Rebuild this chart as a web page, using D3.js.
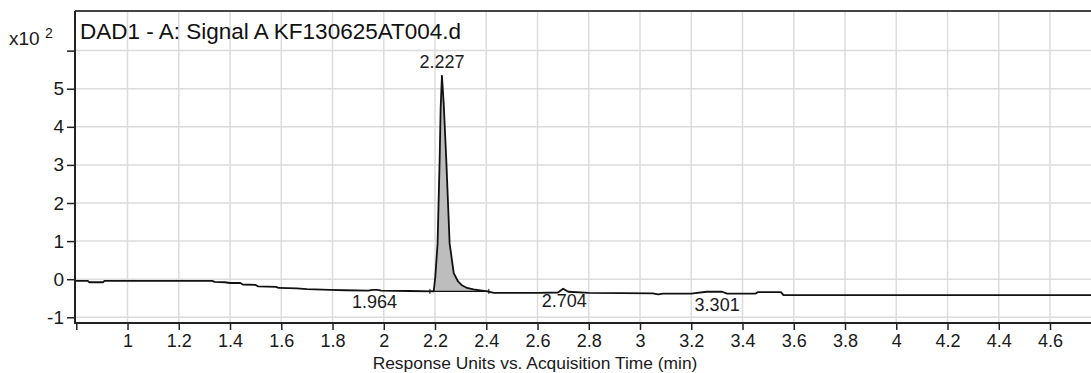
<!DOCTYPE html>
<html><head><meta charset="utf-8">
<script src="https://cdn.jsdelivr.net/npm/d3@7"></script>
<style>
html,body{margin:0;padding:0;background:#fff;}
svg{display:block;font-family:"Liberation Sans",Arial,sans-serif;}
</style></head>
<body>
<svg id="c" width="1091" height="373"></svg>
<script>
// ---- data (response in x10^2 units vs. acquisition time in min) ----
const times = [0.795,0.845,0.850,0.905,0.910,1.33,1.34,1.38,1.40,1.44,1.45,1.50,1.51,1.58,1.59,1.66,1.70,1.79,1.85,1.94,1.955,1.975,1.99,2.10,2.195,
  2.201,2.210,2.218,2.222,2.227,2.234,2.244,2.257,2.273,2.29,2.305,2.325,2.350,2.404,2.43,
  2.60,2.68,2.70,2.72,2.80,3.05,3.07,3.09,3.20,3.26,3.32,3.34,3.45,3.46,3.55,3.56,4.76];
const signal = [-0.045,-0.045,-0.08,-0.08,-0.045,-0.045,-0.07,-0.08,-0.10,-0.10,-0.14,-0.15,-0.19,-0.20,-0.23,-0.24,-0.26,-0.28,-0.29,-0.30,-0.28,-0.28,-0.30,-0.31,-0.32,
  0.06,0.94,3.12,4.5,5.34,4.6,3.12,0.94,0.16,-0.06,-0.16,-0.23,-0.27,-0.32,-0.36,
  -0.36,-0.35,-0.25,-0.33,-0.36,-0.37,-0.40,-0.38,-0.38,-0.33,-0.33,-0.38,-0.38,-0.34,-0.34,-0.42,-0.42];
const peakLabels = ["1.964","2.227","2.704","3.301"];
const peakTimes = [1.964,2.227,2.704,3.301];
const peakLabelValues = [-0.6,5.7,-0.56,-0.68];
const mainPeakWindow = [2.197,2.404];
const mainPeakBaseline = -0.32;
const integrationBaseline = [2.18,2.41];
const xTicks = [0.8,1,1.2,1.4,1.6,1.8,2,2.2,2.4,2.6,2.8,3,3.2,3.4,3.6,3.8,4,4.2,4.4,4.6];
const yTicks = [-1,0,1,2,3,4,5,6];
const yTickLabels = ["-1","0","1","2","3","4","5",""];
const xDomain = [0.795,4.76];
const yDomain = [-1.15,7.04];
const title = "DAD1 - A: Signal A KF130625AT004.d";
const xTitle = "Response Units vs. Acquisition Time (min)";

const svg = d3.select("#c");
const L=75, R=1091, T=11, B=323;
const x = d3.scaleLinear().domain(xDomain).range([L,R]);
const y = d3.scaleLinear().domain(yDomain).range([B,T]);

// grid
const grid = svg.append("g").attr("stroke","#dcdcdc").attr("stroke-width",1.5);
xTicks.filter(t=>t>=1).forEach(t=>grid.append("line").attr("x1",x(t)).attr("x2",x(t)).attr("y1",T).attr("y2",B));
yTicks.forEach(v=>grid.append("line").attr("x1",L).attr("x2",R).attr("y1",y(v)).attr("y2",y(v)));

// top border
svg.append("line").attr("x1",L).attr("x2",R).attr("y1",T).attr("y2",T).attr("stroke","#444").attr("stroke-width",2);

// fill main peak
const pts = times.map((t,i)=>[t,signal[i]]);
const peakPts = pts.filter(p=>p[0]>=mainPeakWindow[0]&&p[0]<=mainPeakWindow[1]);
svg.append("path").datum(peakPts)
  .attr("d",d3.area().x(d=>x(d[0])).y0(y(mainPeakBaseline)).y1(d=>y(d[1])))
  .attr("fill","#bdbdbd");

// integration baseline
svg.append("line").attr("x1",x(integrationBaseline[0])).attr("x2",x(integrationBaseline[1]))
  .attr("y1",y(mainPeakBaseline)).attr("y2",y(mainPeakBaseline)).attr("stroke","#111").attr("stroke-width",1.3);
integrationBaseline.forEach(t=>svg.append("line").attr("x1",x(t)).attr("x2",x(t))
  .attr("y1",y(mainPeakBaseline)-2.5).attr("y2",y(mainPeakBaseline)+2.5).attr("stroke","#111").attr("stroke-width",1));

// signal line
svg.append("path").datum(pts)
  .attr("d",d3.line().x(d=>x(d[0])).y(d=>y(d[1])))
  .attr("fill","none").attr("stroke","#111").attr("stroke-width",1.8).attr("stroke-linejoin","round");

// axes
const xAxis = d3.axisBottom(x).tickValues(xTicks).tickSize(7).tickPadding(4)
  .tickFormat(d=> d===0.8 ? "" : d3.format("~g")(d));
const gx = svg.append("g").attr("transform",`translate(0,${B})`).call(xAxis);
gx.select(".domain").remove();
gx.selectAll(".tick line").attr("stroke","#222").attr("stroke-width",1.5);
gx.selectAll(".tick text").attr("font-size",18).attr("fill","#1a1a1a").attr("font-family","Liberation Sans, Arial, sans-serif");

const yAxis = d3.axisLeft(y).tickValues(yTicks).tickSize(8).tickPadding(3)
  .tickFormat((d,i)=>yTickLabels[i]);
const gy = svg.append("g").attr("transform",`translate(${L},0)`).call(yAxis);
gy.select(".domain").remove();
gy.selectAll(".tick line").attr("stroke","#222").attr("stroke-width",1.5);
gy.selectAll(".tick text").attr("font-size",19).attr("fill","#1a1a1a").attr("font-family","Liberation Sans, Arial, sans-serif");

// axis lines
svg.append("line").attr("x1",L).attr("x2",L).attr("y1",T).attr("y2",B+1).attr("stroke","#222").attr("stroke-width",2);
svg.append("line").attr("x1",L).attr("x2",R).attr("y1",B).attr("y2",B).attr("stroke","#222").attr("stroke-width",2);

// texts
svg.append("text").attr("x",80).attr("y",39).attr("font-size",22.5).attr("fill","#111").text(title);
const ex = svg.append("text").attr("x",9).attr("y",45).attr("font-size",19).attr("fill","#1a1a1a");
ex.append("tspan").text("x10 ");
ex.append("tspan").attr("font-size",14).attr("dy",-7).text("2");
svg.append("text").attr("x",535).attr("y",369).attr("text-anchor","middle").attr("font-size",17.4).attr("fill","#1a1a1a").text(xTitle);

peakLabels.forEach((lab,i)=>{
  svg.append("text").attr("x",x(peakTimes[i])).attr("y",y(peakLabelValues[i])).attr("dy","0.35em")
    .attr("text-anchor","middle").attr("font-size",18).attr("fill","#1a1a1a").text(lab);
});
</script>
</body></html>
